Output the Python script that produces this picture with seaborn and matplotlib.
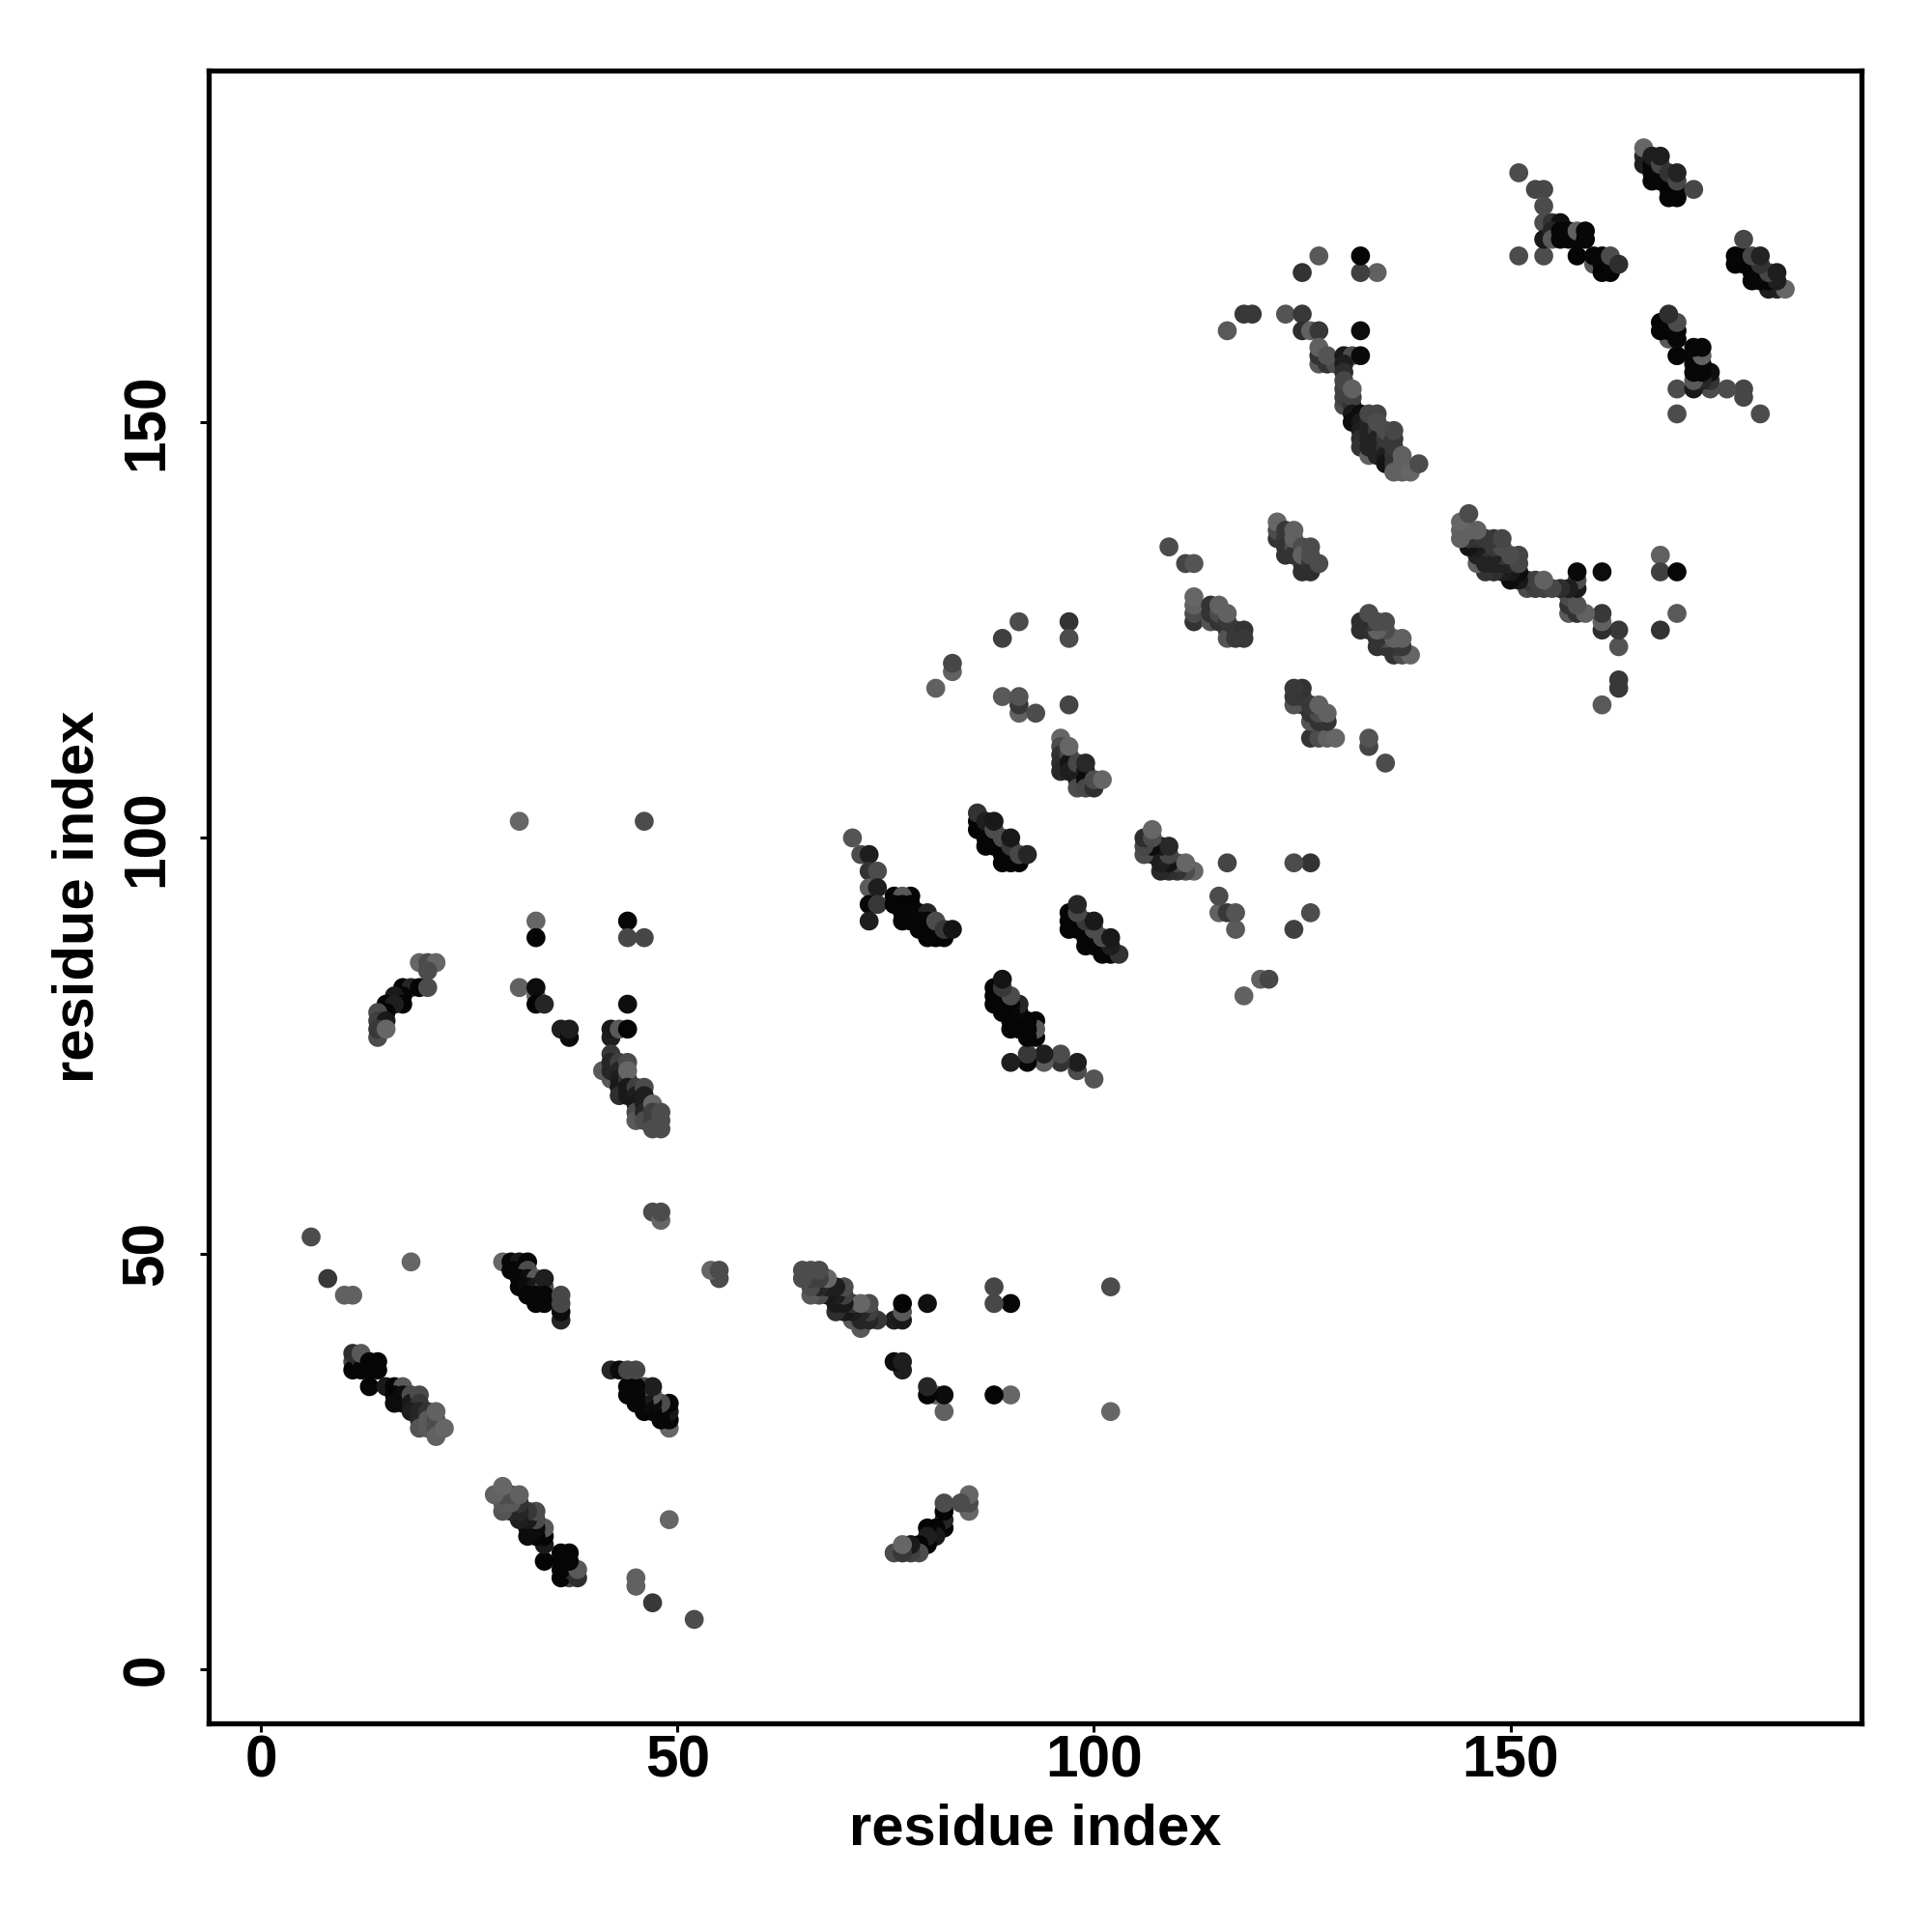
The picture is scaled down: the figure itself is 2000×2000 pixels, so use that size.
import matplotlib
matplotlib.use("Agg")
import matplotlib.pyplot as plt
import pandas as pd
import seaborn as sns

# contacts as (residue i, residue j, grey level), i < j, the map is symmetric
sparse_low = [(6, 52, .3), (8, 47, .22), (10, 45, .38), (11, 45, .38), (18, 49, .4),
              (47, 55, .3), (48, 54, .4), (48, 55, .3)]
sheet_a = [(11, 37, .28), (11, 36, .02), (11, 38, .18), (12, 37, .18), (12, 36, .02), (12, 38, .35),
           (13, 37, .02), (13, 36, .02), (14, 37, .02), (14, 36, .02), (13, 34, .02),
           (15, 34, .1), (16, 34, .02), (17, 34, .35), (16, 33, .02), (16, 32, .05), (17, 33, .05),
           (17, 32, .05), (18, 33, .3), (18, 32, .1), (19, 33, .3), (19, 32, .22), (18, 31, .12),
           (19, 31, .15), (19, 30, .15), (19, 29, .33), (20, 31, .2), (20, 30, .35), (20, 29, .35),
           (21, 30, .3), (21, 29, .3), (21, 31, .38), (21, 28, .38), (22, 29, .4)]
sheet_b = [(29, 49, .4), (30, 49, .03), (31, 49, .1), (32, 49, .03), (30, 48, .03), (31, 48, .03),
           (32, 48, .3), (31, 47, .03), (32, 47, .05), (33, 47, .35), (31, 46, .03), (32, 46, .05),
           (33, 46, .1), (34, 46, .3), (34, 47, .12), (32, 45, .03), (33, 45, .03), (34, 45, .03),
           (33, 44, .03), (34, 44, .03), (36, 42, .15), (36, 43, .05), (36, 44, .28), (36, 45, .28)]
sheet_c = [(19, 85, .4), (20, 85, .3), (21, 85, .4), (20, 84, .3), (17, 82, .02), (18, 82, .15),
           (19, 82, .02), (20, 82, .3), (17, 81, .02), (16, 81, .1), (17, 80, .02), (15, 80, .02),
           (16, 80, .12), (15, 79, .02), (14, 79, .3), (14, 78, .25), (15, 78, .1), (14, 76, .3),
           (14, 77, .22), (15, 77, .4)]
sparse_d = [(31, 102, .4), (46, 102, .3), (33, 90, .4), (33, 88, .02), (44, 90, .03), (44, 88, .28),
            (46, 88, .28), (31, 82, .38), (33, 81, .4), (33, 82, .05), (33, 80, .02), (34, 80, .15),
            (36, 77, .12), (37, 76, .05), (37, 77, .12), (42, 76, .12), (42, 77, .1), (43, 77, .35),
            (44, 77, .02), (44, 80, .06)]
sheet_d = [(41, 72, .35), (42, 71, .35), (42, 74, .22), (42, 73, .15), (42, 72, .15), (43, 73, .25),
           (43, 72, .15), (43, 71, .12), (43, 70, .1), (43, 69, .18), (44, 73, .3), (44, 71, .2),
           (44, 72, .4), (44, 70, .1), (44, 69, .1), (45, 70, .25), (45, 69, .12), (45, 68, .1),
           (45, 67, .3), (45, 66, .35), (46, 70, .3), (46, 69, .12), (46, 68, .12), (46, 67, .15),
           (46, 66, .3), (47, 68, .4), (47, 67, .25), (47, 66, .25), (47, 65, .3), (48, 67, .3),
           (48, 66, .3), (48, 65, .3)]
sheet_g = [(71, 100, .33), (72, 98, .3), (73, 98, .12), (73, 96, .2), (74, 96, .3), (73, 94, .36),
           (74, 94, .12), (73, 92, .03), (74, 92, .22), (73, 90, .12),
           (76, 93, .02), (78, 93, .02), (77, 93, .35), (76, 92, .02), (77, 92, .02), (78, 92, .02),
           (77, 91, .02), (78, 91, .02), (79, 91, .03), (80, 91, .15), (77, 90, .02), (78, 90, .02),
           (79, 90, .03), (80, 90, .03), (79, 89, .02), (80, 89, .02), (81, 89, .03), (80, 88, .02),
           (81, 88, .02), (82, 88, .02), (81, 90, .3), (82, 89, .22), (83, 89, .08)]
sheet_h = [(86, 102, .02), (86, 101, .02), (87, 101, .02), (87, 100, .02), (88, 100, .02), (87, 99, .02),
           (88, 99, .02), (89, 99, .02), (89, 98, .02), (90, 98, .02), (89, 97, .02), (90, 97, .02),
           (91, 97, .02), (86, 103, .2), (87, 102, .12), (88, 101, .3), (88, 102, .1), (89, 100, .3),
           (90, 99, .22), (90, 100, .1), (91, 98, .28), (92, 98, .15)]
sheet_i = [(96, 112, .4), (96, 111, .3), (96, 110, .2), (96, 109, .18), (96, 108, .16), (97, 110, .28),
           (97, 109, .08), (97, 108, .12), (97, 111, .4), (98, 108, .14), (98, 107, .12), (98, 106, .3),
           (98, 109, .28), (99, 108, .1), (99, 107, .05), (99, 106, .28), (99, 109, .16), (100, 106, .18),
           (100, 107, .3), (101, 107, .4)]
sparse_j = [(81, 118, .38), (83, 120, .38), (83, 121, .28), (89, 124, .25), (91, 126, .3), (97, 126, .2),
            (97, 124, .3), (89, 117, .35), (91, 115, .38), (91, 116, .22), (91, 117, .33), (93, 115, .3),
            (97, 116, .27), (109, 135, .3), (111, 133, .27), (112, 133, .33)]
sheet_k = [(112, 126, .2), (112, 127, .3), (112, 128, .38), (112, 129, .4), (114, 126, .33), (114, 127, .2),
           (114, 128, .2), (115, 126, .2), (115, 127, .3), (115, 128, .38), (116, 125, .2), (116, 124, .33),
           (116, 126, .22), (116, 127, .38), (117, 125, .22), (117, 124, .22), (118, 125, .2), (118, 124, .22)]
sheet_l = [(122, 136, .2), (122, 137, .3), (122, 138, .4), (123, 137, .22), (123, 136, .22), (123, 135, .2),
           (123, 134, .2), (124, 135, .3), (124, 134, .2), (124, 136, .38), (124, 137, .38), (125, 133, .2),
           (125, 132, .18), (125, 135, .3), (125, 134, .38), (126, 133, .22), (126, 132, .18), (126, 134, .3),
           (126, 135, .3), (127, 133, .3)]
sparse_m = [(134, 168, .38), (132, 168, .25), (132, 170, .03), (127, 170, .35), (125, 168, .2),
            (118, 163, .22), (119, 163, .22), (116, 161, .35), (123, 163, .33), (125, 163, .22),
            (125, 161, .18), (126, 161, .38), (127, 161, .22), (132, 161, .05)]
sheet_m = [(127, 157, .35), (127, 158, .2), (128, 157, .2), (127, 159, .38), (129, 157, .3), (128, 158, .33),
           (130, 158, .1), (131, 158, .3), (132, 158, .04), (130, 157, .12), (130, 156, .18), (130, 152, .3),
           (130, 153, .25), (130, 154, .25), (130, 155, .28),
           (131, 152, .2), (131, 153, .25), (131, 154, .38), (131, 151, .1), (131, 150, .05),
           (132, 151, .05), (132, 150, .1), (132, 149, .12), (132, 148, .18), (132, 147, .2), (133, 146, .38),
           (133, 150, .15), (133, 149, .14), (133, 148, .14), (133, 147, .14), (133, 151, .28), (134, 149, .22),
           (134, 148, .14), (134, 147, .14), (134, 146, .14), (134, 151, .27), (134, 150, .3), (135, 147, .2),
           (135, 146, .12), (135, 145, .08), (135, 148, .22), (135, 149, .3), (136, 146, .2), (136, 145, .2),
           (136, 147, .22), (136, 148, .22), (136, 149, .28), (136, 144, .38), (137, 145, .38), (137, 144, .38),
           (138, 144, .4), (137, 146, .38), (139, 145, .3)]
sheet_n = [(151, 180, .3), (153, 178, .28), (154, 178, .28), (154, 176, .3), (154, 174, .3), (155, 174, .2),
           (156, 174, .06), (154, 170, .3), (154, 172, .1), (155, 173, .15), (155, 172, .35), (156, 173, .03),
           (156, 172, .03), (157, 172, .03), (157, 173, .03), (158, 172, .03), (158, 173, .38), (159, 173, .03),
           (159, 172, .03), (151, 170, .3), (158, 170, .02), (160, 169, .35), (160, 170, .03), (161, 170, .03),
           (161, 169, .03), (161, 168, .02), (162, 168, .02), (162, 169, .03), (162, 170, .3), (163, 169, .18)]
sheet_o = [(166, 182, .15), (166, 181, .12), (166, 183, .4), (167, 181, .03), (167, 180, .03), (167, 179, .03),
           (167, 182, .12), (168, 180, .04), (168, 179, .03), (168, 181, .28), (168, 182, .12), (169, 179, .03),
           (169, 178, .02), (170, 178, .02), (169, 177, .02), (170, 177, .02), (169, 180, .2), (170, 179, .28),
           (170, 180, .14), (172, 178, .28)]

axis_ticks = [0, 50, 100, 150]
axis_label = "residue index"

groups = [sparse_low, sheet_a, sheet_b, sheet_c, sparse_d, sheet_d, sheet_g, sheet_h, sheet_i,
          sparse_j, sheet_k, sheet_l, sparse_m, sheet_m, sheet_n, sheet_o]
upper = pd.DataFrame([c for g in groups for c in g], columns=["i", "j", "shade"])
lower = upper.rename(columns={"i": "j", "j": "i"})[["i", "j", "shade"]]
df = pd.concat([upper, lower], ignore_index=True)

sns.set_theme(style="white")
plt.rcParams["font.family"] = ["Liberation Sans", "DejaVu Sans"]
plt.rcParams["font.weight"] = "bold"

fig = plt.figure(figsize=(10, 10), dpi=200)
ax = fig.add_axes([0.108, 0.108, 0.8555, 0.8555])
sns.scatterplot(data=df, x="i", y="j", hue="shade", palette="gray", hue_norm=(0, 1),
                s=50, linewidth=0, legend=False, ax=ax)
ax.set_xlim(-6.3, 192.15)
ax.set_ylim(-6.5, 192.3)
ax.set_xticks(axis_ticks)
ax.set_yticks(axis_ticks)
ax.tick_params(axis="both", direction="out", length=3.2, width=1.1, color="black",
               labelsize=21.8, labelcolor="black", bottom=True, left=True)
ax.tick_params(axis="x", pad=1)
ax.tick_params(axis="y", pad=9)
for t in ax.get_yticklabels():
    t.set_rotation(90)
    t.set_va("center")
for s in ax.spines.values():
    s.set_linewidth(1.9)
    s.set_color("black")
ax.set_xlabel(axis_label, fontsize=21.5, fontweight="bold", color="black", labelpad=5)
ax.set_ylabel(axis_label, fontsize=21.5, fontweight="bold", color="black", labelpad=6)

fig.savefig("out.png", dpi=200, facecolor="white")
